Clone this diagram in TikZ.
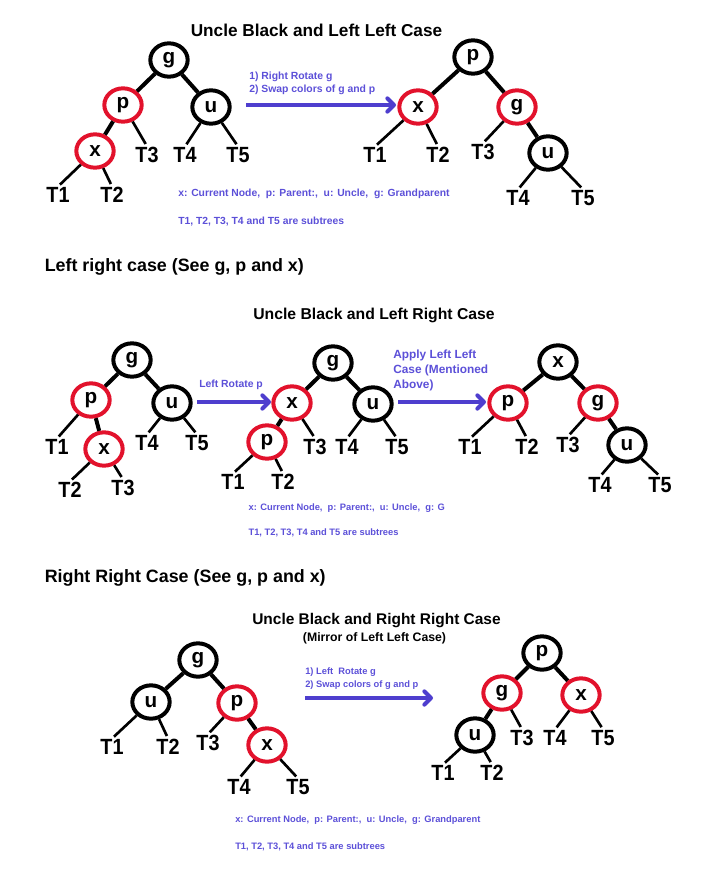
\documentclass[tikz,border=0pt]{standalone}
\usepackage{fontspec}
\setmainfont{Liberation Sans}
\newfontfamily\labfont[FakeStretch=0.9]{Liberation Sans}
\usetikzlibrary{shapes.geometric,arrows.meta}
\definecolor{rbred}{RGB}{226,18,44}
\definecolor{arblue}{RGB}{78,62,206}
\definecolor{txblue}{RGB}{92,80,216}
\begin{document}
\begin{tikzpicture}[x=0.75pt,y=-0.75pt,
  bnode/.style={ellipse,draw=black,line width=3pt,minimum width=28pt,minimum height=25pt,inner sep=0pt,font=\fontsize{15.5}{16}\selectfont\bfseries},
  rnode/.style={bnode,draw=rbred},
  sub/.style={inner sep=0.5pt,font=\labfont\fontsize{16.5}{17}\selectfont\bfseries},
  link/.style={line width=3pt},
  leaf/.style={line width=2pt,shorten >=2pt},
  bigtitle/.style={font=\fontsize{12.9}{15}\selectfont\bfseries,inner sep=0pt},
  heading/.style={anchor=west,inner sep=0pt,font=\fontsize{13.4}{15}\selectfont\bfseries},
  note/.style={anchor=west,inner sep=0pt,text=txblue,font=\fontsize{7.75}{9}\selectfont\bfseries},
  smallnote/.style={note,font=\fontsize{7.0}{9}\selectfont\bfseries},
  opnote/.style={anchor=west,inner sep=0pt,text=txblue,font=\fontsize{7.8}{10}\selectfont\bfseries},
  op/.style={line width=3pt,draw=arblue,-{Straight Barb[length=5pt,width=10pt,round]}}
]
\useasboundingbox (0,0) rectangle (727,895);

% ---------------- Section 1 ----------------
\node[bigtitle] (T1title) at (316.5,30.5) {Uncle Black and Left Left Case};
% left tree
\node[bnode] (Ag) at (169,60) {g};
\node[rnode] (Ap) at (123,105) {p};
\node[bnode] (Au) at (211,107) {u};
\node[rnode] (Ax) at (95,151) {x};
\node[sub] (AT1) at (58,195) {T1};
\node[sub] (AT2) at (112,195) {T2};
\node[sub] (AT3) at (147,155) {T3};
\node[sub] (AT4) at (185,155) {T4};
\node[sub] (AT5) at (238,155) {T5};
\draw[link] (Ag) -- (Ap);
\draw[link] (Ag) -- (Au);
\draw[link] (Ap) -- (Ax);
\draw[leaf] (Ap) -- (AT3.north);
\draw[leaf] (Au) -- (AT4.north);
\draw[leaf] (Au) -- (AT5.north);
\draw[leaf] (Ax) -- (AT1.north);
\draw[leaf] (Ax) -- (AT2.north);
% operation
\node[opnote] (Aop1) at (249,76.5) {1) Right Rotate g};
\node[opnote] (Aop2) at (249,90) {2) Swap colors of g and p};
\coordinate (Aa1) at (246,105);
\coordinate (Aa2) at (396,105);
\draw[op] (Aa1) -- (Aa2);
% right tree
\node[bnode] (Bp) at (473,57) {p};
\node[rnode] (Bx) at (418,107) {x};
\node[rnode] (Bg) at (517,107) {g};
\node[bnode] (Bu) at (548,153) {u};
\node[sub] (BT1) at (375,155) {T1};
\node[sub] (BT2) at (438,155) {T2};
\node[sub] (BT3) at (483,152) {T3};
\node[sub] (BT4) at (518,198) {T4};
\node[sub] (BT5) at (583,198) {T5};
\draw[link] (Bp) -- (Bx);
\draw[link] (Bp) -- (Bg);
\draw[link] (Bg) -- (Bu);
\draw[leaf] (Bx) -- (BT1.north);
\draw[leaf] (Bx) -- (BT2.north);
\draw[leaf] (Bg) -- (BT3.north);
\draw[leaf] (Bu) -- (BT4.north);
\draw[leaf] (Bu) -- (BT5.north);
% notes
\node[note] (An1) at (178,194) {x: Current Node,\ \ p: Parent:,\ \ u: Uncle,\ \ g: Grandparent};
\node[note] (An2) at (178,221.5) {T1, T2, T3, T4 and T5 are subtrees};

% ---------------- Section 2 ----------------
\node[heading] (H2) at (44.5,267) {Left right case (See g, p and x)};
\node[bigtitle,font=\fontsize{11.8}{14}\selectfont\bfseries] (T2title) at (374,315) {Uncle Black and Left Right Case};
% left tree
\node[bnode] (Cg) at (132,360) {g};
\node[rnode] (Cp) at (91,400) {p};
\node[bnode] (Cu) at (172,403) {u};
\node[rnode] (Cx) at (104,449) {x};
\node[sub] (CT1) at (57,447) {T1};
\node[sub] (CT4) at (147,443) {T4};
\node[sub] (CT5) at (197,443) {T5};
\node[sub] (CT2) at (70,490) {T2};
\node[sub] (CT3) at (123,488) {T3};
\draw[link] (Cg) -- (Cp);
\draw[link] (Cg) -- (Cu);
\draw[link] (Cp) -- (Cx);
\draw[leaf] (Cp) -- (CT1.north);
\draw[leaf] (Cu) -- (CT4.north);
\draw[leaf] (Cu) -- (CT5.north);
\draw[leaf] (Cx) -- (CT2.north);
\draw[leaf] (Cx) -- (CT3.north);
% operation 1
\node[opnote] (Cop) at (199,385) {Left Rotate p};
\coordinate (Ca1) at (197,402);
\coordinate (Ca2) at (271,402);
\draw[op] (Ca1) -- (Ca2);
% middle tree
\node[bnode] (Dg) at (333,363) {g};
\node[rnode] (Dx) at (292,403) {x};
\node[bnode] (Du) at (373,404) {u};
\node[rnode] (Dp) at (267,442) {p};
\node[sub] (DT3) at (315,447) {T3};
\node[sub] (DT4) at (347,447) {T4};
\node[sub] (DT5) at (397,447) {T5};
\node[sub] (DT1) at (233,482) {T1};
\node[sub] (DT2) at (283,482) {T2};
\draw[link] (Dg) -- (Dx);
\draw[link] (Dg) -- (Du);
\draw[link] (Dx) -- (Dp);
\draw[leaf] (Dx) -- (DT3.north);
\draw[leaf] (Du) -- (DT4.north);
\draw[leaf] (Du) -- (DT5.north);
\draw[leaf] (Dp) -- (DT1.north);
\draw[leaf] (Dp) -- (DT2.north);
% operation 2
\node[opnote,align=left,font=\fontsize{8.9}{11.2}\selectfont\bfseries] (Dop) at (393,370) {Apply Left Left\\Case (Mentioned\\Above)};
\coordinate (Da1) at (398,402);
\coordinate (Da2) at (486,402);
\draw[op] (Da1) -- (Da2);
% right tree
\node[bnode] (Ex) at (558,362) {x};
\node[rnode] (Ep) at (508,403) {p};
\node[rnode] (Eg) at (598,403) {g};
\node[bnode] (Eu) at (627,445) {u};
\node[sub] (ET1) at (470,447) {T1};
\node[sub] (ET2) at (527,447) {T2};
\node[sub] (ET3) at (568,445) {T3};
\node[sub] (ET4) at (600,485) {T4};
\node[sub] (ET5) at (660,485) {T5};
\draw[link] (Ex) -- (Ep);
\draw[link] (Ex) -- (Eg);
\draw[link] (Eg) -- (Eu);
\draw[leaf] (Ep) -- (ET1.north);
\draw[leaf] (Ep) -- (ET2.north);
\draw[leaf] (Eg) -- (ET3.north);
\draw[leaf] (Eu) -- (ET4.north);
\draw[leaf] (Eu) -- (ET5.north);
% notes
\node[smallnote] (Dn1) at (248.3,508.5) {x: Current Node,\ \ p: Parent:,\ \ u: Uncle,\ \ g: G};
\node[smallnote] (Dn2) at (248.3,532.5) {T1, T2, T3, T4 and T5 are subtrees};

% ---------------- Section 3 ----------------
\node[heading] (H3) at (44.5,578) {Right Right Case (See g, p and x)};
\node[bigtitle,font=\fontsize{11.6}{14}\selectfont\bfseries] (T3title) at (376.5,620.5) {Uncle Black and Right Right Case};
\node[bigtitle,font=\fontsize{9.2}{11}\selectfont\bfseries] (T3sub) at (374.5,638.5) {(Mirror of Left Left Case)};
% left tree
\node[bnode] (Fg) at (198,660) {g};
\node[bnode] (Fu) at (151,702) {u};
\node[rnode] (Fp) at (237,703) {p};
\node[rnode] (Fx) at (267,745) {x};
\node[sub] (FT1) at (112,747) {T1};
\node[sub] (FT2) at (168,747) {T2};
\node[sub] (FT3) at (208,743) {T3};
\node[sub] (FT4) at (239,787) {T4};
\node[sub] (FT5) at (298,787) {T5};
\draw[link] (Fg) -- (Fu);
\draw[link] (Fg) -- (Fp);
\draw[link] (Fp) -- (Fx);
\draw[leaf] (Fu) -- (FT1.north);
\draw[leaf] (Fu) -- (FT2.north);
\draw[leaf] (Fp) -- (FT3.north);
\draw[leaf] (Fx) -- (FT4.north);
\draw[leaf] (Fx) -- (FT5.north);
% operation
\node[opnote,font=\fontsize{7.0}{9}\selectfont\bfseries] (Fop1) at (305,672) {1) Left\ \ Rotate g};
\node[opnote,font=\fontsize{7.0}{9}\selectfont\bfseries] (Fop2) at (305,685) {2) Swap colors of g and p};
\coordinate (Fa1) at (305,698);
\coordinate (Fa2) at (433,698);
\draw[op] (Fa1) -- (Fa2);
% right tree
\node[bnode] (Gp) at (542,653) {p};
\node[rnode] (Gg) at (502,693) {g};
\node[rnode] (Gx) at (581,695) {x};
\node[bnode] (Gu) at (475,735) {u};
\node[sub] (GT3) at (522,738) {T3};
\node[sub] (GT4) at (555,738) {T4};
\node[sub] (GT5) at (603,738) {T5};
\node[sub] (GT1) at (443,773) {T1};
\node[sub] (GT2) at (492,773) {T2};
\draw[link] (Gp) -- (Gg);
\draw[link] (Gp) -- (Gx);
\draw[link] (Gg) -- (Gu);
\draw[leaf] (Gg) -- (GT3.north);
\draw[leaf] (Gx) -- (GT4.north);
\draw[leaf] (Gx) -- (GT5.north);
\draw[leaf] (Gu) -- (GT1.north);
\draw[leaf] (Gu) -- (GT2.north);
% notes
\node[smallnote] (Fn1) at (235,820) {x: Current Node,\ \ p: Parent:,\ \ u: Uncle,\ \ g: Grandparent};
\node[smallnote] (Fn2) at (235,846.5) {T1, T2, T3, T4 and T5 are subtrees};
\end{tikzpicture}
\end{document}
